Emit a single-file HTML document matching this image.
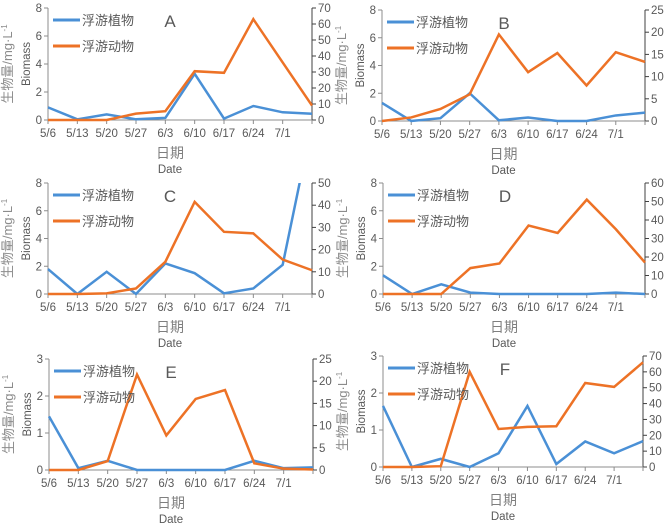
<!DOCTYPE html>
<html><head><meta charset="utf-8"><style>
body{margin:0;background:#fff;width:668px;height:526px;overflow:hidden}
svg text{font-family:"Liberation Sans","Noto Sans CJK SC",sans-serif;fill:#595959}
</style></head><body>
<svg id="chart" width="668" height="526" xmlns="http://www.w3.org/2000/svg"></svg>
<script>
const categories=["5/6","5/13","5/20","5/27","6/3","6/10","6/17","6/24","7/1",""];
const panelNames=["A","B","C","D","E","F"];
const phytoA=[0.9,0.05,0.4,0.05,0.15,3.3,0.1,1.0,0.55,0.45];
const zooA=[0,0,0,4,5.5,30.5,29.5,63,36,9];
const phytoB=[1.3,0,0.2,2.0,0.05,0.25,0,0,0.4,0.6];
const zooB=[0,0.8,2.7,6,19.5,11,15.3,8,15.5,13.3];
const phytoC=[1.8,0,1.6,0,2.2,1.5,0.05,0.4,2.1,12.3];
const zooC=[0,0,0.3,2.5,14.5,41.5,28,27.3,15.5,10.7];
const phytoD=[1.35,0,0.7,0.1,0,0,0,0,0.1,0];
const zooD=[0,0,0,14,16.5,37,33,51,35,17];
const phytoE=[1.45,0.05,0.25,0,0,0,0,0.25,0.05,0.07];
const zooE=[0,0,2,21.5,7.8,16,18,1.5,0.3,0.1];
const phytoF=[1.65,0,0.22,0,0.37,1.65,0.08,0.69,0.37,0.7];
const zooF=[0,0,0.5,60,24,25.3,25.7,53,50.5,66];
const leftTicksA=[0,2,4,6,8],rightTicksA=[0,10,20,30,40,50,60,70];
const leftTicksB=[0,2,4,6,8],rightTicksB=[0,5,10,15,20,25];
const leftTicksC=[0,2,4,6,8],rightTicksC=[0,10,20,30,40,50];
const leftTicksD=[0,2,4,6,8],rightTicksD=[0,10,20,30,40,50,60];
const leftTicksE=[0,1,2,3],rightTicksE=[0,5,10,15,20,25];
const leftTicksF=[0,1,2,3],rightTicksF=[0,10,20,30,40,50,60,70];

const geo=[
 {l:48,r:312,t:8,b:120},{l:382,r:645,t:10,b:121},
 {l:48,r:312,t:183,b:294},{l:383,r:645,t:183,b:294},
 {l:49,r:313,t:359,b:470},{l:383,r:643,t:356,b:467}];
const phyto=[phytoA,phytoB,phytoC,phytoD,phytoE,phytoF];
const zoo=[zooA,zooB,zooC,zooD,zooE,zooF];
const lt=[leftTicksA,leftTicksB,leftTicksC,leftTicksD,leftTicksE,leftTicksF];
const rt=[rightTicksA,rightTicksB,rightTicksC,rightTicksD,rightTicksE,rightTicksF];
const svg=document.getElementById('chart');
const NS="http://www.w3.org/2000/svg";
function mk(tag,attrs,parent,txt){const e=document.createElementNS(NS,tag);for(const k in attrs)e.setAttribute(k,attrs[k]);if(txt!==undefined)e.textContent=txt;(parent||svg).appendChild(e);return e;}
geo.forEach((g,i)=>{
 const grp=mk('g',{});
 
 
 const lmax=lt[i][lt[i].length-1],rmax=rt[i][rt[i].length-1];
 const step=(g.r-g.l)/(categories.length-1);
 const x=k=>g.l+k*step;
 const yl=v=>g.b-(v/lmax)*(g.b-g.t);
 const yr=v=>g.b-(v/rmax)*(g.b-g.t);
 const cp=mk('clipPath',{id:'cp'+i},grp);mk('rect',{x:g.l-2,y:g.t,width:g.r-g.l+4,height:g.b-g.t+2},cp);
 let a=mk('line',{x1:g.l,y1:g.t,x2:g.l,y2:g.b,stroke:'#8c8c8c','stroke-width':1},grp);
 a=mk('line',{x1:g.r,y1:g.t,x2:g.r,y2:g.b,stroke:'#404040','stroke-width':1},grp);
 a=mk('line',{x1:g.l,y1:g.b,x2:g.r,y2:g.b,stroke:'#8c8c8c','stroke-width':1},grp);
 lt[i].forEach(v=>{mk('line',{x1:g.l-4,y1:yl(v),x2:g.l,y2:yl(v),stroke:'#8c8c8c'},grp);
  const t=mk('text',{x:g.l-6,y:yl(v)+4,'text-anchor':'end','font-size':11.5},grp,v);});
 rt[i].forEach(v=>{mk('line',{x1:g.r,y1:yr(v),x2:g.r+4,y2:yr(v),stroke:'#404040'},grp);
  const t=mk('text',{x:g.r+6,y:yr(v)+4,'font-size':11.5},grp,v);});
 categories.forEach((c,k)=>{mk('line',{x1:x(k),y1:g.b,x2:x(k),y2:g.b+4,stroke:'#8c8c8c'},grp);
  if(c){const t=mk('text',{x:x(k),y:g.b+17,'text-anchor':'middle','font-size':11.5},grp,c);}});
 const cx=(g.l+g.r)/2-10, cy=(g.t+g.b)/2;
 let t=mk('text',{x:cx,y:g.b+38,'text-anchor':'middle','font-size':14,style:'fill:#7f7f7f'},grp,'日期');
 t=mk('text',{x:cx,y:g.b+53,'text-anchor':'middle','font-size':11.5},grp,'Date');
 t=mk('text',{transform:`translate(${g.l-36},${cy}) rotate(-90)`,'text-anchor':'middle','font-size':13,style:'fill:#8c8c8c'},grp);
 t.innerHTML='生物量/mg·L<tspan font-size="8" dy="-5">-1</tspan>';
 t=mk('text',{transform:`translate(${g.l-18},${cy}) rotate(-90)`,'text-anchor':'middle','font-size':11.5},grp,'Biomass');
 t=mk('text',{x:g.l+122,y:g.t+19,'text-anchor':'middle','font-size':17},grp,panelNames[i]);
 const pz=zoo[i].map((v,k)=>x(k)+','+yr(v)).join(' ');
 const pp=phyto[i].map((v,k)=>x(k)+','+yl(v)).join(' ');
 let s=mk('polyline',{points:pp,fill:'none',stroke:'#4a90d6','stroke-width':2.5,'clip-path':`url(#cp${i})`},grp);
 s=mk('polyline',{points:pz,fill:'none',stroke:'#ed7226','stroke-width':2.5,'clip-path':`url(#cp${i})`},grp);
 const ly1=g.t+12,ly2=g.t+38;
 mk('line',{x1:g.l+5,y1:ly1,x2:g.l+32,y2:ly1,stroke:'#4a90d6','stroke-width':3},grp);
 t=mk('text',{x:g.l+34,y:ly1+5,'font-size':13},grp,'浮游植物');
 mk('line',{x1:g.l+5,y1:ly2,x2:g.l+32,y2:ly2,stroke:'#ed7226','stroke-width':3},grp);
 t=mk('text',{x:g.l+34,y:ly2+5,'font-size':13},grp,'浮游动物');
});
</script>
</body></html>
